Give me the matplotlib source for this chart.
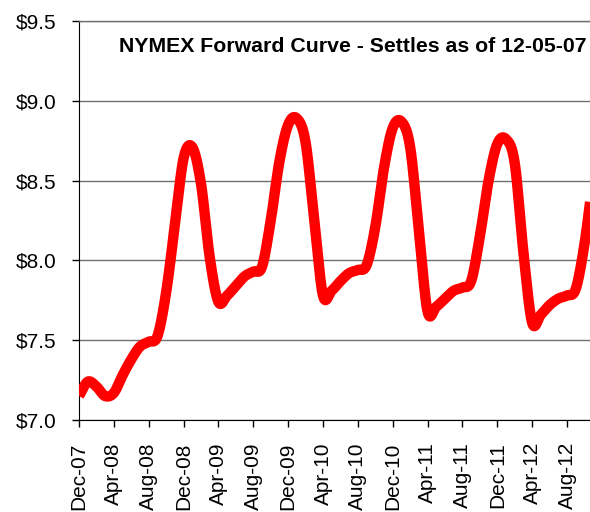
import numpy as np
import matplotlib
matplotlib.use("Agg")
import matplotlib.pyplot as plt

plt.rcParams["font.family"] = ["Liberation Sans", "DejaVu Sans"]

# monthly settles, Dec-07 .. Dec-12
months = [
    "Dec-07", "Jan-08", "Feb-08", "Mar-08", "Apr-08", "May-08", "Jun-08",
    "Jul-08", "Aug-08", "Sep-08", "Oct-08", "Nov-08",
    "Dec-08", "Jan-09", "Feb-09", "Mar-09", "Apr-09", "May-09", "Jun-09",
    "Jul-09", "Aug-09", "Sep-09", "Oct-09", "Nov-09",
    "Dec-09", "Jan-10", "Feb-10", "Mar-10", "Apr-10", "May-10", "Jun-10",
    "Jul-10", "Aug-10", "Sep-10", "Oct-10", "Nov-10",
    "Dec-10", "Jan-11", "Feb-11", "Mar-11", "Apr-11", "May-11", "Jun-11",
    "Jul-11", "Aug-11", "Sep-11", "Oct-11", "Nov-11",
    "Dec-11", "Jan-12", "Feb-12", "Mar-12", "Apr-12", "May-12", "Jun-12",
    "Jul-12", "Aug-12", "Sep-12", "Oct-12", "Nov-12", "Dec-12",
]
settles = [
    7.15, 7.24, 7.21, 7.15, 7.17, 7.28, 7.38, 7.46, 7.49, 7.525, 7.80, 8.22,
    8.64, 8.71, 8.48, 8.02, 7.74, 7.78, 7.84, 7.90, 7.93, 7.96, 8.25, 8.62,
    8.85, 8.89, 8.74, 8.25, 7.78, 7.81, 7.87, 7.92, 7.94, 7.97, 8.21, 8.58,
    8.83, 8.87, 8.71, 8.19, 7.68, 7.71, 7.76, 7.81, 7.83, 7.87, 8.15, 8.50,
    8.73, 8.76, 8.61, 8.05, 7.61, 7.66, 7.72, 7.76, 7.78, 7.82, 8.10, 8.50,
    8.75,
]
y_ticks = [7.0, 7.5, 8.0, 8.5, 9.0, 9.5]
title = "NYMEX Forward Curve - Settles as of 12-05-07"


def smooth(x, y, steps=20):
    # Catmull-Rom through the points, like a spreadsheet "smoothed line"
    x = np.asarray(x, float)
    y = np.asarray(y, float)
    px = np.concatenate([[2 * x[0] - x[1]], x, [2 * x[-1] - x[-2]]])
    py = np.concatenate([[2 * y[0] - y[1]], y, [2 * y[-1] - y[-2]]])
    t = np.linspace(0, 1, steps, endpoint=False)
    xs, ys = [], []
    for i in range(1, len(px) - 2):
        for arr, out in ((px, xs), (py, ys)):
            p0, p1, p2, p3 = arr[i - 1], arr[i], arr[i + 1], arr[i + 2]
            out.append(0.5 * (2 * p1 + (-p0 + p2) * t
                              + (2 * p0 - 5 * p1 + 4 * p2 - p3) * t ** 2
                              + (-p0 + 3 * p1 - 3 * p2 + p3) * t ** 3))
    xs.append([x[-1]])
    ys.append([y[-1]])
    return np.concatenate(xs), np.concatenate(ys)


idx = np.arange(len(months))
sx, sy = smooth(idx, settles)

fig = plt.figure(figsize=(5.9, 5.12), dpi=100)
ax = fig.add_axes([79 / 590, 1 - 420 / 512, 1 - 79 / 590, 399 / 512])

ax.plot(sx, sy, color="#ff0000", linewidth=7.5, solid_capstyle="butt",
        solid_joinstyle="round", zorder=3)

ax.set_xlim(0, 58.64)
ax.set_ylim(7.0, 9.5)

ax.set_yticks(y_ticks)
ax.set_yticklabels([f"${v:.1f}" for v in y_ticks])
ax.set_xticks(idx[::4][:15])
ax.set_xticklabels(months[::4][:15], rotation=90)

ax.yaxis.grid(True, color="#707070", linewidth=1.0)
ax.set_axisbelow(True)

ax.spines["right"].set_visible(False)
ax.spines["top"].set_color("#707070")
ax.spines["top"].set_linewidth(1.0)
ax.spines["left"].set_color("black")
ax.spines["bottom"].set_color("black")

ax.tick_params(axis="y", direction="out", length=5, width=1,
               labelsize=15, pad=11)
ax.tick_params(axis="x", direction="out", length=5, width=1,
               labelsize=15, pad=11)

ax.text(0.994, 0.935, title, transform=ax.transAxes, ha="right",
        va="center", fontsize=15.3, fontweight="bold")

fig.savefig("out.png", dpi=100)
